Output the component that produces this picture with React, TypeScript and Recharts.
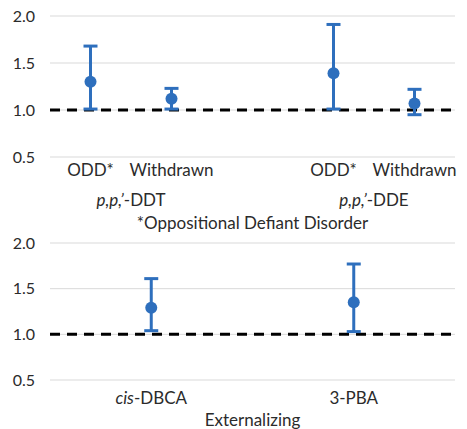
import React from "react";
import {
  ComposedChart,
  Scatter,
  ErrorBar,
  XAxis,
  YAxis,
  CartesianGrid,
  ReferenceLine,
  Label,
} from "recharts";

// top panel: ODD* / Withdrawn for two exposures, blank slot in between
const topSlots = [1, 3, 7, 9];
const topLabels = ["ODD*", "Withdrawn", "ODD*", "Withdrawn"];
const topOR = [1.3, 1.12, 1.39, 1.07];
const topLow = [1.01, 1.01, 1.01, 0.95];
const topHigh = [1.68, 1.23, 1.91, 1.22];
const topGroupSlots = [2, 8];
const topGroups: [string, string][] = [
  ["p,p,’", "-DDT"],
  ["p,p,’", "-DDE"],
];

// bottom panel: externalizing
const bottomSlots = [1, 3];
const bottomLabels: [string, string][] = [
  ["cis", "-DBCA"],
  ["", "3-PBA"],
];
const bottomOR = [1.29, 1.35];
const bottomLow = [1.04, 1.03];
const bottomHigh = [1.61, 1.77];

const yTicks = [0.5, 1.0, 1.5, 2.0];

const BLUE = "#2e6fbd";
const TEXT = "#2b2b2b";
const FONT = "Lato, 'Open Sans', sans-serif";

const topData = topSlots.map((s, i) => ({
  slot: s,
  or: topOR[i],
  err: [topOR[i] - topLow[i], topHigh[i] - topOR[i]],
}));

const bottomData = bottomSlots.map((s, i) => ({
  slot: s,
  or: bottomOR[i],
  err: [bottomOR[i] - bottomLow[i], bottomHigh[i] - bottomOR[i]],
}));

const Dot = (props: any) => (
  <circle cx={props.cx} cy={props.cy} r={6} fill={BLUE} />
);

const makeTick = (slots: number[], labels: (string | [string, string])[], dy: number) =>
  (props: any) => {
    const { x, y, payload } = props;
    const i = slots.indexOf(payload.value);
    if (i < 0) return null;
    const lab = labels[i];
    return (
      <text x={x} y={y} dy={dy} textAnchor="middle" fill={TEXT} fontSize={17} fontFamily={FONT}>
        {typeof lab === "string" ? (
          lab
        ) : (
          <>
            {lab[0] && <tspan fontStyle="italic">{lab[0]}</tspan>}
            <tspan>{lab[1]}</tspan>
          </>
        )}
      </text>
    );
  };

const yAxisProps = {
  domain: [0.5, 2] as [number, number],
  ticks: yTicks,
  width: 50,
  axisLine: false,
  tickLine: false,
  tickSize: 0,
  tickMargin: 15,
  tick: { fill: TEXT, fontSize: 16, fontFamily: FONT },
  tickFormatter: (v: number) => v.toFixed(1),
};

export default function App() {
  return (
    <div style={{ position: "absolute", left: 0, top: 0, width: 467, height: 429, background: "#fff" }}>
      <ComposedChart width={467} height={232} data={topData} margin={{ top: 16, right: 12, left: 0, bottom: 0 }}>
        <CartesianGrid horizontal vertical={false} stroke="#d9d9d9" />
        <XAxis
          dataKey="slot"
          type="number"
          domain={[0, 10]}
          allowDataOverflow
          ticks={topSlots}
          height={25}
          axisLine={false}
          tickLine={false}
          tickSize={0}
          tickMargin={0}
          interval={0}
          tick={makeTick(topSlots, topLabels, 19)}
        />
        <XAxis
          xAxisId="group"
          dataKey="slot"
          type="number"
          domain={[0, 10]}
          allowDataOverflow
          ticks={topGroupSlots}
          height={50}
          axisLine={false}
          tickLine={false}
          tickSize={0}
          tickMargin={0}
          interval={0}
          tick={makeTick(topGroupSlots, topGroups, 24)}
        >
          <Label
            value="*Oppositional Defiant Disorder"
            position="insideBottom"
            offset={3}
            fill={TEXT}
            fontSize={17}
            fontFamily={FONT}
          />
        </XAxis>
        <YAxis {...yAxisProps} />
        <ReferenceLine y={1} stroke="#000" strokeWidth={3} strokeDasharray="10 7" />
        <Scatter dataKey="or" shape={Dot} isAnimationActive={false}>
          <ErrorBar dataKey="err" direction="y" width={7} strokeWidth={3} stroke={BLUE} />
        </Scatter>
      </ComposedChart>
      <ComposedChart width={467} height={197} data={bottomData} margin={{ top: 11, right: 12, left: 0, bottom: 0 }}>
        <CartesianGrid horizontal vertical={false} stroke="#d9d9d9" />
        <XAxis
          dataKey="slot"
          type="number"
          domain={[0, 4]}
          allowDataOverflow
          ticks={bottomSlots}
          height={49}
          axisLine={false}
          tickLine={false}
          tickSize={0}
          tickMargin={0}
          interval={0}
          tick={makeTick(bottomSlots, bottomLabels, 24)}
        >
          <Label value="Externalizing" position="insideBottom" offset={3} fill={TEXT} fontSize={17} fontFamily={FONT} />
        </XAxis>
        <YAxis {...yAxisProps} />
        <ReferenceLine y={1} stroke="#000" strokeWidth={3} strokeDasharray="10 7" />
        <Scatter dataKey="or" shape={Dot} isAnimationActive={false}>
          <ErrorBar dataKey="err" direction="y" width={7} strokeWidth={3} stroke={BLUE} />
        </Scatter>
      </ComposedChart>
    </div>
  );
}
